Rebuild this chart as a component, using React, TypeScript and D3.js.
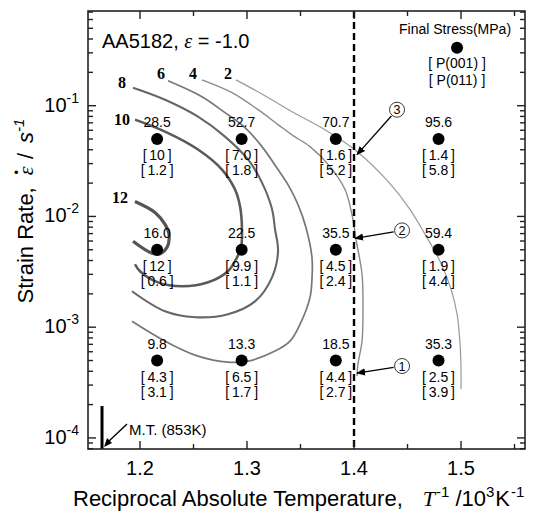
import * as d3 from "d3";

// reciprocal temperature columns (10^3/K) and strain-rate rows (1/s)
const invTemps = [1.216, 1.295, 1.383, 1.479];
const strainRates = [5e-2, 5e-3, 5e-4];

// final stress (MPa) per row / column
const finalStress = [
  [28.5, 52.7, 70.7, 95.6],
  [16.0, 22.5, 35.5, 59.4],
  [9.8, 13.3, 18.5, 35.3],
];
const p001 = [
  ["10", "7.0", "1.6", "1.4"],
  ["12", "9.9", "4.5", "1.9"],
  ["4.3", "6.5", "4.4", "2.5"],
];
const p011 = [
  ["1.2", "1.8", "5.2", "5.8"],
  ["0.6", "1.1", "2.4", "4.4"],
  ["3.1", "1.7", "2.7", "3.9"],
];

// iso-lines of P(001), [1/T, strain rate]
const contour2: [number, number][] = [
  [1.2897, 0.171], [1.3168, 0.123], [1.3421, 0.0883], [1.371, 0.0621], [1.4028, 0.0386],
  [1.4318, 0.0207], [1.4523, 0.0116], [1.4664, 0.00689], [1.4804, 0.00394], [1.4907, 0.0022],
  [1.4963, 0.00131], [1.4991, 0.000703], [1.5, 0.000419], [1.5, 0.000276],
];
const contour4: [number, number][] = [
  [1.2579, 0.171], [1.286, 0.131], [1.3103, 0.092], [1.329, 0.0675], [1.343, 0.0537],
  [1.3589, 0.0427], [1.3776, 0.0282], [1.3916, 0.0175], [1.3981, 0.0104], [1.4019, 0.00621],
  [1.4075, 0.003], [1.4084, 0.00151], [1.4075, 0.000748], [1.4037, 0.000464], [1.4028, 0.000362],
];
const contour6: [number, number][] = [
  [1.2262, 0.168], [1.2579, 0.1205], [1.2794, 0.0865], [1.2981, 0.0634], [1.314, 0.0427],
  [1.329, 0.0265], [1.3383, 0.0194], [1.3477, 0.0128], [1.3551, 0.00796], [1.3607, 0.00428],
  [1.3607, 0.00271], [1.3589, 0.00186], [1.3495, 0.00106], [1.3402, 0.000748], [1.3262, 0.000608],
  [1.3009, 0.000494], [1.2822, 0.000484], [1.2542, 0.000548], [1.2234, 0.000748], [1.1925, 0.00113],
];
const contour8: [number, number][] = [
  [1.1935, 0.145], [1.2234, 0.113], [1.2542, 0.0796], [1.2794, 0.0526], [1.3009, 0.0327],
  [1.314, 0.0202], [1.3234, 0.0116], [1.3262, 0.00764], [1.329, 0.00484], [1.3234, 0.00282],
  [1.3075, 0.00171], [1.2822, 0.00131], [1.2514, 0.00123], [1.2234, 0.00139], [1.1925, 0.00211],
];
const contour10: [number, number][] = [
  [1.1953, 0.0748], [1.2234, 0.0583], [1.2542, 0.0402], [1.2766, 0.0265], [1.2888, 0.0175],
  [1.2935, 0.0123], [1.2953, 0.00764], [1.2944, 0.00526], [1.2888, 0.00394], [1.2822, 0.0032],
  [1.2636, 0.00254], [1.2393, 0.00234], [1.2168, 0.00254], [1.2, 0.0032], [1.1953, 0.0037],
];
const contour12: [number, number][] = [
  [1.1953, 0.01365], [1.214, 0.01087], [1.2234, 0.00847], [1.2271, 0.00689], [1.2252, 0.00526],
  [1.2168, 0.00455], [1.2075, 0.00484], [1.1935, 0.00596],
];
const contourLevels = [2, 4, 6, 8, 10, 12];
const contours = [contour2, contour4, contour6, contour8, contour10, contour12];

// axis ticks
const xMajor = [1.2, 1.3, 1.4, 1.5];
const xMinor = [1.25, 1.35, 1.45, 1.55];
const yMajor = [1e-4, 1e-3, 1e-2, 1e-1];
const yExponents = ["-4", "-3", "-2", "-1"];

// markers
const legendPoint: [number, number] = [1.4963, 0.333];
const meltInvT = 1.1645;
const meltTop = 1.94e-4;
const boundaryInvT = 1.4;
// numbered arrows: [circle 1/T, circle rate, tip 1/T, tip rate]
const arrowLabels = ["1", "2", "3"];
const arrowPoints: [number, number, number, number][] = [
  [1.4449, 0.000446, 1.4028, 0.000385],
  [1.4449, 0.00748, 1.4009, 0.00634],
  [1.4402, 0.092, 1.4028, 0.0362],
];

const W = 541;
const H = 514;
const m = { left: 88, right: 525, top: 11, bottom: 449 };
const sans = "'Liberation Sans', Arial, Helvetica, sans-serif";
const serif = "'Liberation Serif', 'Times New Roman', serif";

const style: Record<number, { w: number; c: string }> = {
  2: { w: 1.2, c: "#9a9a9a" },
  4: { w: 1.4, c: "#8a8a8a" },
  6: { w: 1.7, c: "#777" },
  8: { w: 2.1, c: "#666" },
  10: { w: 2.6, c: "#5a5a5a" },
  12: { w: 3.2, c: "#555" },
};
const labelOffset: Record<number, [number, number]> = {
  2: [-8, -0.5],
  4: [-9, -0.5],
  6: [-7, -1.5],
  8: [-11, 0.5],
  10: [-13, 5.5],
  12: [-15, 1.5],
};

const br = (s: string) => `[\u2009${s}\u2009]`;

export default function App() {
  const x = d3.scaleLinear().domain([1.1514, 1.5598]).range([m.left, m.right]);
  const y = d3.scaleLog().domain([10 ** -4.1, 10 ** -0.145]).range([m.bottom, m.top]);
  const line = d3
    .line<[number, number]>()
    .x((d) => x(d[0]))
    .y((d) => y(d[1]))
    .curve(d3.curveCatmullRom.alpha(0.5));

  const yTicks = y.ticks();
  const isMajor = (t: number) => Math.abs(Math.log10(t) - Math.round(Math.log10(t))) < 1e-6;

  // M.T. pointer
  const mtX = x(meltInvT);
  const mtY = y(meltTop);

  return (
    <div style={{ position: "absolute", left: 0, top: 0 }}>
      <svg width={W} height={H} style={{ display: "block", background: "#fff" }}>
        <defs>
          <marker id="ah" viewBox="0 0 10 10" refX="9" refY="5" markerWidth="9" markerHeight="9"
            markerUnits="userSpaceOnUse" orient="auto">
            <path d="M0,1 L10,5 L0,9 Z" fill="#000" />
          </marker>
        </defs>

        {/* contours */}
        {contours.map((c, i) => {
          const lv = contourLevels[i];
          const [dx, dy] = labelOffset[lv];
          return (
            <g key={lv}>
              <path d={line(c) || ""} fill="none" stroke={style[lv].c} strokeWidth={style[lv].w} />
              <text x={x(c[0][0]) + dx} y={y(c[0][1]) + dy} textAnchor="middle"
                fontFamily={serif} fontWeight="bold" fontSize={16}>{lv}</text>
            </g>
          );
        })}

        {/* boundary line */}
        <line x1={x(boundaryInvT)} x2={x(boundaryInvT)} y1={m.top} y2={m.bottom}
          stroke="#000" strokeWidth={2.4} strokeDasharray="7 4" />

        {/* data points */}
        {strainRates.map((r, i) =>
          invTemps.map((t, j) => {
            const cx = x(t);
            const cy = y(r);
            return (
              <g key={`${i}-${j}`} fontFamily={sans} fontSize={14} textAnchor="middle">
                <circle cx={cx} cy={cy} r={6} fill="#000" />
                <text x={cx} y={cy - 12}>{finalStress[i][j].toFixed(1)}</text>
                <text x={cx} y={cy + 21}>{br(p001[i][j])}</text>
                <text x={cx} y={cy + 36}>{br(p011[i][j])}</text>
              </g>
            );
          })
        )}

        {/* legend */}
        <g fontFamily={sans} fontSize={14} textAnchor="middle">
          <circle cx={x(legendPoint[0])} cy={y(legendPoint[1])} r={6} fill="#000" />
          <text x={x(legendPoint[0]) - 2} y={y(legendPoint[1]) - 14}>Final Stress(MPa)</text>
          <text x={x(legendPoint[0])} y={y(legendPoint[1]) + 20}>[ P(001) ]</text>
          <text x={x(legendPoint[0])} y={y(legendPoint[1]) + 37}>[ P(011) ]</text>
        </g>

        {/* numbered arrows */}
        {arrowPoints.map((a, i) => {
          const cx = x(a[0]);
          const cy = y(a[1]);
          const tx = x(a[2]);
          const ty = y(a[3]);
          const len = Math.hypot(tx - cx, ty - cy);
          const sx = cx + ((tx - cx) / len) * 8.5;
          const sy = cy + ((ty - cy) / len) * 8.5;
          return (
            <g key={i}>
              <line x1={sx} y1={sy} x2={tx} y2={ty} stroke="#000" strokeWidth={1.3} markerEnd="url(#ah)" />
              <circle cx={cx} cy={cy} r={7.5} fill="#fff" stroke="#222" strokeWidth={0.9} />
              <text x={cx} y={cy + 4.5} textAnchor="middle" fontFamily={sans} fontSize={12.5}>{arrowLabels[i]}</text>
            </g>
          );
        })}

        {/* melting temperature */}
        <line x1={mtX} x2={mtX} y1={mtY} y2={m.bottom} stroke="#000" strokeWidth={3} />
        <path d={`M${mtX + 25},${mtY + 18} L${mtX + 7},${m.bottom - 8}`} stroke="#000" strokeWidth={1.4} fill="none" />
        <path d={`M${mtX + 2},${m.bottom - 2} L${mtX + 5},${m.bottom - 11} L${mtX + 10},${m.bottom - 6} Z`} fill="#000" />
        <text x={mtX + 27} y={435} fontFamily={sans} fontSize={15}>M.T. (853K)</text>

        {/* title */}
        <text x={102} y={48} fontFamily={sans} fontSize={20}>
          AA5182,{" "}
          <tspan fontFamily={serif} fontStyle="italic">ε</tspan> = -1.0
        </text>

        {/* frame and ticks */}
        <rect x={m.left} y={m.top} width={m.right - m.left} height={m.bottom - m.top}
          fill="none" stroke="#222" strokeWidth={1.6} />
        {[...xMajor, ...xMinor].map((t) => {
          const len = xMajor.includes(t) ? 8 : 5;
          return (
            <g key={t} stroke="#222" strokeWidth={1.4}>
              <line x1={x(t)} x2={x(t)} y1={m.bottom} y2={m.bottom - len} />
              <line x1={x(t)} x2={x(t)} y1={m.top} y2={m.top + len} />
            </g>
          );
        })}
        {yTicks.map((t) => {
          const len = isMajor(t) ? 8 : 5;
          return (
            <g key={t} stroke="#222" strokeWidth={1.4}>
              <line x1={m.left} x2={m.left + len} y1={y(t)} y2={y(t)} />
              <line x1={m.right} x2={m.right - len} y1={y(t)} y2={y(t)} />
            </g>
          );
        })}

        {/* tick labels */}
        {xMajor.map((t) => (
          <text key={t} x={x(t)} y={475} textAnchor="middle" fontFamily={sans} fontSize={20}>
            {t.toFixed(1)}
          </text>
        ))}
        {yMajor.map((t, i) => (
          <text key={t} x={79} y={y(t) + 6} textAnchor="end" fontFamily={sans} fontSize={20}>
            10<tspan dy={-9} fontSize={14}>{yExponents[i]}</tspan>
          </text>
        ))}

        {/* axis titles */}
        <text x={73} y={506} fontFamily={sans} fontSize={22}>
          Reciprocal Absolute Temperature,
          <tspan dx={20} fontFamily={serif} fontStyle="italic">T</tspan>
          <tspan dx={1} dy={-9} fontSize={15}>-1</tspan>
          <tspan dx={6} dy={9}>/10</tspan>
          <tspan dy={-9} fontSize={15}>3</tspan>
          <tspan dx={1} dy={9}>K</tspan>
          <tspan dx={1} dy={-9} fontSize={15}>-1</tspan>
        </text>
        <text transform="translate(33,211) rotate(-90)" textAnchor="middle" fontFamily={sans} fontSize={22}>
          Strain Rate,
          <tspan dx={12} fontFamily={serif} fontStyle="italic">ε</tspan>
          <tspan dx={-8} dy={-12} fontSize={13}>•</tspan>
          <tspan dx={11} dy={12}>/</tspan>
          <tspan dx={10} fontStyle="italic">s</tspan>
          <tspan dy={-9} fontSize={15} fontStyle="italic">-1</tspan>
        </text>
      </svg>
    </div>
  );
}
